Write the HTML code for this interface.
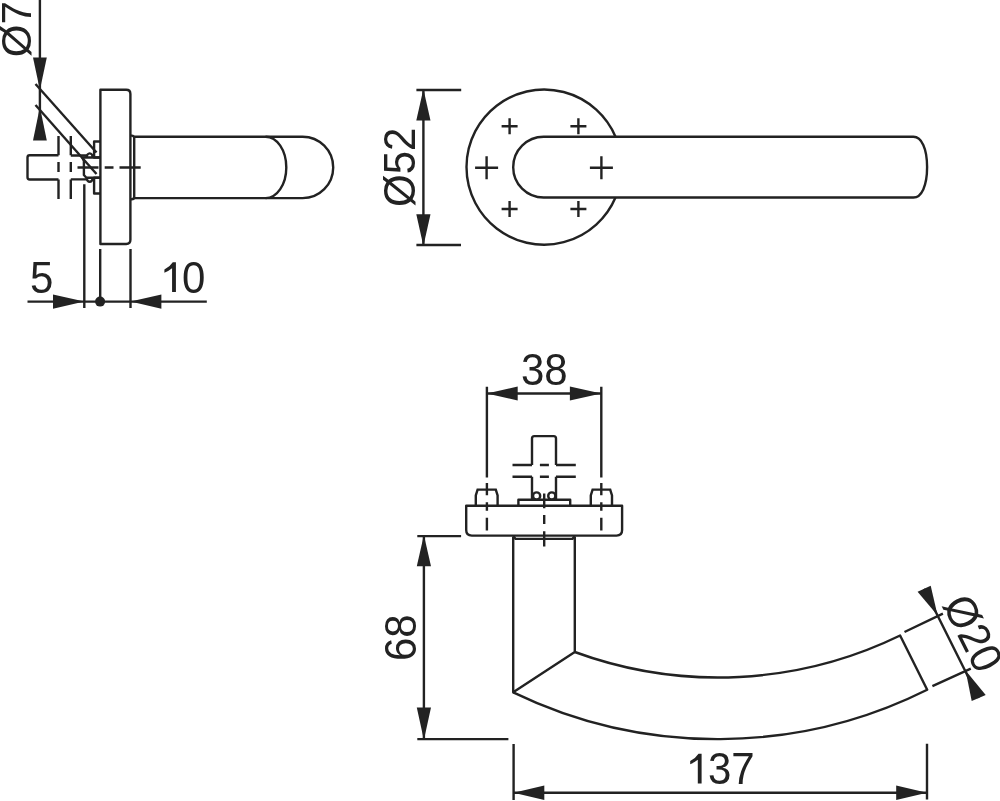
<!DOCTYPE html>
<html><head><meta charset="utf-8">
<style>
html,body{margin:0;padding:0;background:#fff;width:1000px;height:801px;overflow:hidden}
svg{display:block;will-change:transform}
text{font-family:"Liberation Sans",sans-serif;font-size:42px;fill:#222222}
path.tx{fill:#222222;stroke:none}
</style></head>
<body>
<svg width="1000" height="801" viewBox="0 0 1000 801">
<g class="ln" fill="none" stroke="#222222" stroke-width="2.4" stroke-linejoin="round">
<!-- LEFT SIDE VIEW -->
<path d="M39.9,0 V140"/>
<path d="M35.5,84 L96.5,152.5"/>
<path d="M35.5,105 L96.5,174"/>
<path d="M58.5,155.3 H29.7 Q27.5,155.3 27.5,157.5 V177.3 Q27.5,179.5 29.7,179.5 H58.5"/>
<path d="M58.5,136 V155.3 M58.5,162 V172 M58.5,179.5 V199"/>
<path d="M70.8,136 V155.3 M70.8,162 V172 M70.8,179.5 V199"/>
<path d="M70.8,155.5 H87 M70.8,179.4 H87"/>
<path d="M82.3,157.5 H100.3 M82.3,157.5 L83.9,161 V175 L86.4,177.7 H100.3"/>
<path d="M86.8,157 A2.9,3.6 0 0 1 92.6,157"/>
<path d="M86.8,178.2 A2.9,3.6 0 0 0 92.6,178.2"/>
<path d="M100.3,157.5 H94.1 V141.5 H100.3"/>
<path d="M100.3,177.7 H94.1 V193.5 H100.3"/>
<path d="M100.4,89.8 H126.2 Q130.4,89.8 130.4,94 V239.8 Q130.4,244 126.2,244 H100.4 Z"/>
<path d="M77.5,167.5 H98.5 M104.7,167.5 H113.5 M119.5,167.5 H140.7"/>
<path d="M134.2,136.7 H302.6 A30.6,30.7 0 0 1 302.6,198.1 H134.2"/>
<path d="M130.4,135.6 H131.6 Q134.2,135.6 134.2,138 V197 Q134.2,199.3 131.6,199.3 H130.4"/>
<path d="M265.6,136.7 A20.7,30.7 0 0 1 265.6,198.1"/>
<path d="M84.3,184.3 V308 M100.2,249 V301.6 M130.5,249 V308"/>
<path d="M27.5,301.6 H206.8"/>
<!-- MIDDLE FRONT VIEW -->
<path d="M615.5,136.7 A77.6,77.6 0 1 0 615.5,197.5"/>
<path d="M913.4,136.8 H543.6 A30.4,30.35 0 0 0 543.6,197.5 H913.4 C921.5,197.5 927.1,186 927.1,167.1 C927.1,148.3 921.5,136.8 913.4,136.8 Z"/>
<path d="M501.6,126.2 H517.6 M509.6,118.2 V134.2"/>
<path d="M570.4,126.2 H586.4 M578.4,118.2 V134.2"/>
<path d="M475.1,167.7 H498.1 M486.6,156.2 V179.2"/>
<path d="M589.9,167.7 H612.9 M601.4,156.2 V179.2"/>
<path d="M501.6,209 H517.6 M509.6,201 V217"/>
<path d="M570.4,209 H586.4 M578.4,201 V217"/>
<path d="M416.4,90 H461.2 M416.4,245 H461 M423.4,90 V245"/>
<!-- BOTTOM VIEW -->
<path d="M486.9,386.7 V477.5 M601.3,386.7 V477.5"/>
<path d="M486.9,483 V495.3 M486.9,502.3 V510.7 M486.9,517.8 V530.4"/>
<path d="M601.3,483 V495.3 M601.3,502.3 V510.7 M601.3,517.8 V530.4"/>
<path d="M486.9,393.5 H601.3"/>
<path d="M466.2,505.7 H622.1 V530 Q622.1,535.6 616.5,535.6 H471.8 Q466.2,535.6 466.2,530 Z"/>
<path stroke-linejoin="miter" d="M475.8,505.7 V495.5 L477.6,489.6 H495.8 L497.6,495.5 V505.7"/>
<path stroke-linejoin="miter" d="M590.8,505.7 V495.5 L592.6,489.6 H610.2 L612,495.5 V505.7"/>
<path d="M518.4,505.7 V499.8 H570.2 V505.7"/>
<path d="M532,465 V438.4 Q532,436.1 534.3,436.1 H553.7 Q556,436.1 556,438.4 V465"/>
<path d="M532,476.7 V499.8 M556,476.7 V499.8"/>
<path d="M512.5,465 H532 M539.9,465 H548.9 M556,465 H575.8"/>
<path d="M512.5,476.7 H532 M539.9,476.7 H548.9 M556,476.7 H575.8"/>
<circle cx="536.6" cy="496" r="3.6"/>
<circle cx="551.8" cy="496" r="3.6"/>
<path d="M544.2,493.6 V508.2 M544.2,515 V524 M544.2,531.2 V546.4"/>
<path d="M513.2,535.8 L515.6,538.9 H572.4 L574.8,535.8"/>
<path d="M513.2,537 V692.3 L574.8,652 V537"/>
<path d="M574.8,652 A415.7,415.7 0 0 0 900.1,635.5 L927.2,689.7 A469.5,469.5 0 0 1 513.2,692.3"/>
<path d="M417.3,536.1 H461.1 M417.3,739.1 H508.4 M423.9,536.1 V739.1"/>
<path d="M513.6,744 V800 M927,743.8 V799.5 M513.6,792.7 H927"/>
<path d="M904.5,632 L942.9,613.7 M932.4,686.2 L970.8,668.7 M924.2,588.8 L978.7,698"/>
</g>
<g class="ln" fill="#222222" stroke="none">
<path d="M33,57.5 H46.8 L39.9,90 Z"/>
<path d="M33,140.6 H46.8 L39.9,107 Z"/>
<path d="M53,294.5 V308.7 L84.3,301.6 Z"/>
<path d="M161.4,294.5 V308.7 L130.5,301.6 Z"/>
<circle cx="100.1" cy="301.6" r="5"/>
<path d="M416.3,120.6 H430.5 L423.4,89 Z"/>
<path d="M416.3,214.2 H430.5 L423.4,246 Z"/>
<path d="M517.7,386.4 V400.6 L486.9,393.5 Z"/>
<path d="M569.9,386.4 V400.6 L601.3,393.5 Z"/>
<path d="M416.8,566.2 H431 L423.9,535 Z"/>
<path d="M416.8,707.5 H431 L423.9,740 Z"/>
<path d="M544.3,785.5 V799.9 L513.6,792.7 Z"/>
<path d="M896.2,785.5 V799.9 L927,792.7 Z"/>
<path d="M917.6,591.8 L930.7,585.7 L937.6,615.4 Z"/>
<path d="M971.7,701 L985.7,694.9 L965.6,670.4 Z"/>
</g>
<text class="tx" transform="translate(31.0,57.2) rotate(-90) scale(1,1.0)">Ø7</text>
<text class="tx" transform="translate(30,292.8) scale(1,1.04)">5</text>
<path class="tx" d="M11.4,29.6 H7.6 V6 Q4.3,8.7 0,10.4 V7.2 Q5.3,4.7 8.3,0 H11.4 Z" transform="translate(164.4,262.2) scale(1.010135135135135)"/>
<text class="tx" transform="translate(182,292.8) scale(1,1.04)">0</text>
<text class="tx" transform="translate(414.5,207) rotate(-90) scale(1,1.04)">Ø52</text>
<text class="tx" transform="translate(521,384.5) scale(1,1.04)">38</text>
<text class="tx" transform="translate(415.6,661) rotate(-90) scale(1,1.04)">68</text>
<path class="tx" d="M11.4,29.6 H7.6 V6 Q4.3,8.7 0,10.4 V7.2 Q5.3,4.7 8.3,0 H11.4 Z" transform="translate(690.2,753.8) scale(1.0)"/>
<text class="tx" transform="translate(708,784) scale(1,1.04)">37</text>
<text class="tx" transform="translate(942,604.5) rotate(63.4) scale(1,1.04)">Ø20</text>
</svg>
</body></html>
